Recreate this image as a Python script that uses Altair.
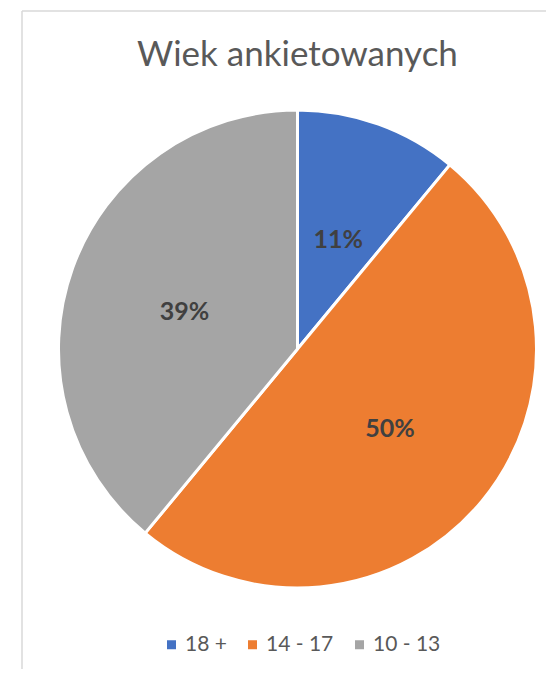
import altair as alt
import pandas as pd

categories = ["18 +", "14 - 17", "10 - 13"]
values = [11, 50, 39]
labels = ["11%", "50%", "39%"]
colors = ["#4472C4", "#ED7D31", "#A5A5A5"]

df = pd.DataFrame({
    "cat": categories,
    "value": values,
    "label": labels,
    "order": list(range(len(categories))),
})

CX, CY = 289.5, 341
R = 239

base = alt.Chart(df).encode(
    theta=alt.Theta("value:Q", stack=True),
    order=alt.Order("order:Q"),
)

pie = base.mark_arc(outerRadius=R, stroke="white", strokeWidth=3).encode(
    x=alt.value(CX),
    y=alt.value(CY),
    color=alt.Color(
        "cat:N",
        sort=categories,
        scale=alt.Scale(domain=categories, range=colors),
        legend=alt.Legend(
            title=None,
            orient="none",
            legendX=153,
            legendY=626,
            direction="horizontal",
            symbolType="square",
            symbolSize=81,
            symbolStrokeWidth=0,
            labelFont="Lato",
            labelFontSize=21,
            labelColor="#595959",
            labelOffset=3,
            columnPadding=15,
        ),
    ),
)

text = base.mark_text(
    radius=120, dy=4, font="Lato", fontSize=25, fontWeight="bold", color="#404040"
).encode(
    x=alt.value(CX),
    y=alt.value(CY),
    text="label:N",
)

frame_data = alt.Data(values=[{"k": 1}])
top_rule = alt.Chart(frame_data).mark_rule(color="#d9d9d9", strokeWidth=1.5).encode(
    x=alt.value(14), x2=alt.value(538), y=alt.value(3)
)
left_rule = alt.Chart(frame_data).mark_rule(color="#d9d9d9", strokeWidth=1.5).encode(
    x=alt.value(14), y=alt.value(3), y2=alt.value(661)
)

chart = alt.layer(top_rule, left_rule, pie, text).properties(
    width=538,
    height=661,
    autosize=alt.AutoSizeParams(type="none"),
    padding=0,
    title=alt.TitleParams(
        "Wiek ankietowanych",
        font="Lato",
        fontSize=35,
        fontWeight="normal",
        color="#595959",
        anchor="middle",
        frame="group",
        baseline="alphabetic",
        offset=-60,
        dx=20.5,
        dy=33,
    ),
).configure_view(stroke=None)

chart.save("out.html", embed_options={"renderer": "svg", "actions": False})
